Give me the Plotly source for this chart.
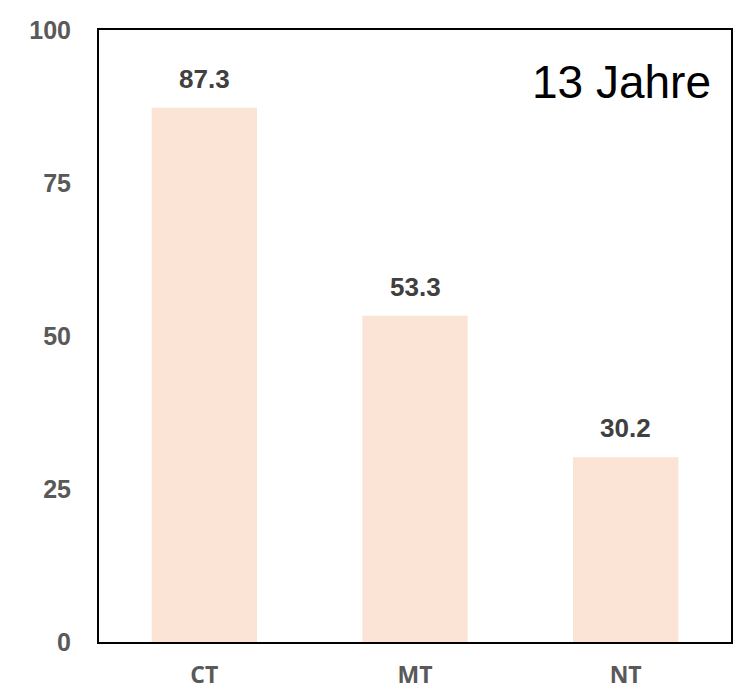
import plotly.graph_objects as go

categories = ["CT", "MT", "NT"]
values = [87.3, 53.3, 30.2]
value_labels = ["87.3", "53.3", "30.2"]
y_tick_vals = [0, 25, 50, 75, 100]
y_tick_text = ["0", "25", "50", "75", "100"]
panel_label = "13 Jahre"

fig = go.Figure()
fig.add_trace(go.Bar(
    x=categories, y=values,
    marker=dict(color="#FBE3D6", line=dict(width=0)),
    hoverinfo="skip",
))

for c, v, t in zip(categories, values, value_labels):
    fig.add_annotation(
        x=c, y=v, text=t, showarrow=False, yanchor="middle", yshift=29,
        font=dict(family="Liberation Sans, Arial", size=26, color="#404040", weight="bold"),
    )

fig.add_annotation(
    xref="paper", yref="paper", x=1, y=0.915, xanchor="right", yanchor="middle",
    xshift=-18, text=panel_label, showarrow=False,
    font=dict(family="Liberation Sans, Arial", size=46, color="#000000"),
)

fig.update_layout(
    width=733, height=691,
    margin=dict(l=99, r=2, t=30, b=49, autoexpand=False),
    paper_bgcolor="white", plot_bgcolor="white",
    bargap=0.5, showlegend=False,
)
fig.update_xaxes(
    showline=True, linecolor="black", linewidth=2, mirror=True,
    showgrid=False, ticks="", ticklabelstandoff=11, automargin=False,
    tickfont=dict(family="Open Sans, Lato", size=23, color="#595959", weight="bold"),
)
fig.update_yaxes(
    range=[0, 100], tickvals=y_tick_vals, ticktext=y_tick_text,
    showline=True, linecolor="black", linewidth=2, mirror=True,
    showgrid=False, zeroline=False, ticks="", ticklabelstandoff=21, automargin=False,
    tickfont=dict(family="Liberation Sans, Arial", size=25, color="#595959", weight="bold"),
)

fig.write_html(
    "out.html",
    config={"displayModeBar": False},
    post_script="document.body.style.margin='0';document.body.style.overflow='hidden';",
)
